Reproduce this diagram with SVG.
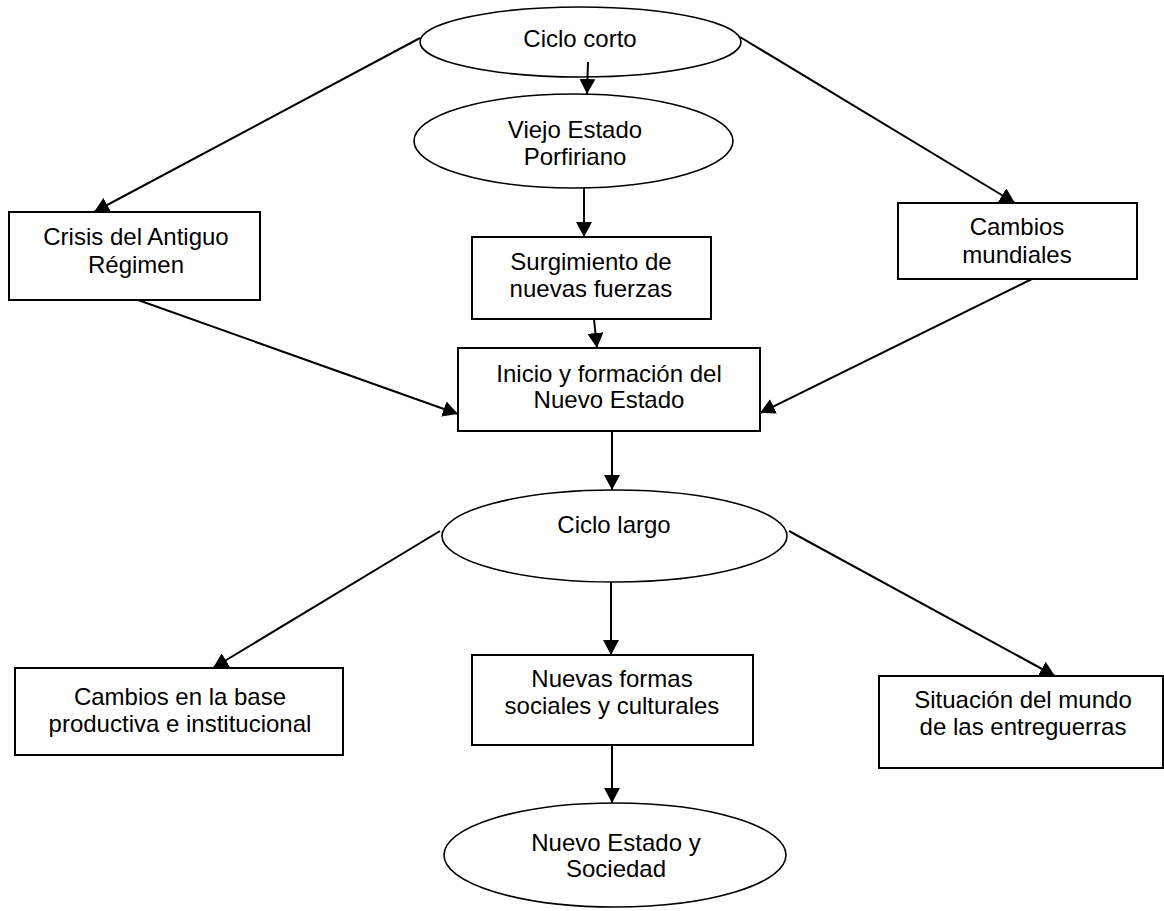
<svg xmlns="http://www.w3.org/2000/svg" width="1164" height="911" viewBox="0 0 1164 911">
<defs>
<style>
.n{fill:#fff;stroke:#000;stroke-width:2}
.e{fill:#fff;stroke:#000;stroke-width:1.6}
.t{font-family:"Liberation Sans",Arial,sans-serif;font-size:24px;fill:#000;text-anchor:middle}
.c{stroke:#000;stroke-width:2;fill:none;marker-end:url(#ah)}
</style>
<marker id="ah" markerUnits="userSpaceOnUse" markerWidth="16" markerHeight="16" refX="15" refY="8" orient="auto">
<path d="M0,0 L15,8 L0,16 Z" fill="#000"/>
</marker>
</defs>
<rect width="1164" height="911" fill="#fff"/>
<g id="ciclo-corto"><ellipse class="e" cx="580.5" cy="42" rx="160.5" ry="35"/><text class="t" x="580" y="47">Ciclo corto</text></g>
<g id="viejo-estado"><ellipse class="e" cx="573.5" cy="141" rx="159.5" ry="47"/><text class="t" x="575" y="138">Viejo Estado</text><text class="t" x="575" y="165">Porfiriano</text></g>
<g id="crisis"><rect class="n" x="9" y="212" width="251" height="88"/><text class="t" x="136" y="245">Crisis del Antiguo</text><text class="t" x="136" y="273">Régimen</text></g>
<g id="surgimiento"><rect class="n" x="472" y="237" width="239" height="82"/><text class="t" x="591" y="270">Surgimiento de</text><text class="t" x="591" y="297">nuevas fuerzas</text></g>
<g id="cambios-mundiales"><rect class="n" x="898" y="203" width="239" height="76"/><text class="t" x="1017" y="235">Cambios</text><text class="t" x="1017" y="263">mundiales</text></g>
<g id="inicio"><rect class="n" x="458" y="348" width="302" height="83"/><text class="t" x="609" y="382">Inicio y formación del</text><text class="t" x="609" y="408">Nuevo Estado</text></g>
<g id="ciclo-largo"><ellipse class="e" cx="614.5" cy="536" rx="172.5" ry="46"/><text class="t" x="614" y="533">Ciclo largo</text></g>
<g id="cambios-base"><rect class="n" x="15" y="668" width="328" height="87"/><text class="t" x="180" y="705">Cambios en la base</text><text class="t" x="180" y="732">productiva e institucional</text></g>
<g id="nuevas-formas"><rect class="n" x="472" y="655" width="281" height="90"/><text class="t" x="612" y="687">Nuevas formas</text><text class="t" x="612" y="714">sociales y culturales</text></g>
<g id="situacion"><rect class="n" x="879" y="676" width="284" height="92"/><text class="t" x="1023" y="708">Situación del mundo</text><text class="t" x="1023" y="735">de las entreguerras</text></g>
<g id="nuevo-estado-sociedad"><ellipse class="e" cx="615" cy="855" rx="171" ry="52"/><text class="t" x="616" y="851">Nuevo Estado y</text><text class="t" x="616" y="877">Sociedad</text></g>
<g id="connectors">
<line class="c" x1="420" y1="38" x2="94" y2="212"/>
<line class="c" x1="588" y1="62" x2="587" y2="94"/>
<line class="c" x1="740" y1="37" x2="1015" y2="203"/>
<line class="c" x1="584" y1="188" x2="584" y2="237"/>
<line class="c" x1="594" y1="319" x2="597" y2="348"/>
<line class="c" x1="138" y1="300" x2="458" y2="414"/>
<line class="c" x1="1032" y1="279" x2="760" y2="413"/>
<line class="c" x1="612" y1="431" x2="612" y2="490"/>
<line class="c" x1="440" y1="531" x2="213" y2="668"/>
<line class="c" x1="611" y1="582" x2="611" y2="655"/>
<line class="c" x1="789" y1="531" x2="1055" y2="676"/>
<line class="c" x1="612" y1="745" x2="612" y2="803"/>
</g>
</svg>
